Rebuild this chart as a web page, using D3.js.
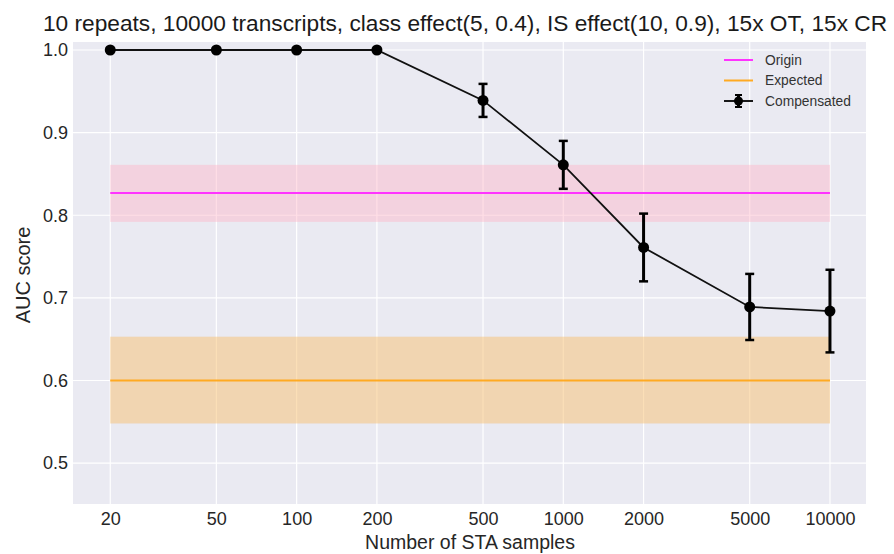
<!DOCTYPE html>
<html>
<head>
<meta charset="utf-8">
<script src="https://cdn.jsdelivr.net/npm/d3@7"></script>
<style>
  body { margin: 0; background: #fff; }
  text { font-family: "Liberation Sans", Arial, sans-serif; }
</style>
</head>
<body>
<svg class="chart" width="894" height="554"></svg>
<script>
// data
var samples = [20, 50, 100, 200, 500, 1000, 2000, 5000, 10000];
var compMean = [1.0, 1.0, 1.0, 1.0, 0.939, 0.861, 0.761, 0.689, 0.684];
var compErr = [0, 0, 0, 0, 0.020, 0.029, 0.041, 0.040, 0.050];
var originMean = 0.827, originLow = 0.792, originHigh = 0.861;
var expectedMean = 0.600, expectedLow = 0.548, expectedHigh = 0.653;
var yTicks = [0.5, 0.6, 0.7, 0.8, 0.9, 1.0];

var chart = d3.select("svg.chart"),
    margin = {top: 42, right: 28, bottom: 50, left: 73},
    w = 894 - margin.left - margin.right,
    h = 554 - margin.top - margin.bottom;

var xScale = d3.scaleLog().domain([14.5, 13650]).range([0, w]);
var yScale = d3.scaleLinear().domain([0.4505, 1.0097]).range([h, 0]);

var g = chart.append("g").attr("transform", "translate(" + margin.left + "," + margin.top + ")");

g.append("rect").attr("width", w).attr("height", h).attr("fill", "#eaeaf2");

// grid
g.selectAll("line.gx").data(samples).enter().append("line")
  .attr("x1", function(d) { return xScale(d); }).attr("x2", function(d) { return xScale(d); })
  .attr("y1", 0).attr("y2", h).attr("stroke", "#fff").attr("stroke-width", 1.2);
g.selectAll("line.gy").data(yTicks).enter().append("line")
  .attr("y1", function(d) { return yScale(d); }).attr("y2", function(d) { return yScale(d); })
  .attr("x1", 0).attr("x2", w).attr("stroke", "#fff").attr("stroke-width", 1.2);

var x0 = xScale(samples[0]), x1 = xScale(samples[samples.length - 1]);

// bands
g.append("rect").attr("x", x0).attr("width", x1 - x0)
  .attr("y", yScale(originHigh)).attr("height", yScale(originLow) - yScale(originHigh))
  .attr("fill", "#ffb6c8").attr("fill-opacity", 0.45);
g.append("rect").attr("x", x0).attr("width", x1 - x0)
  .attr("y", yScale(expectedHigh)).attr("height", yScale(expectedLow) - yScale(expectedHigh))
  .attr("fill", "#f8c070").attr("fill-opacity", 0.5);

g.append("line").attr("x1", x0).attr("x2", x1)
  .attr("y1", yScale(originMean)).attr("y2", yScale(originMean))
  .attr("stroke", "#ff33ff").attr("stroke-width", 2);
g.append("line").attr("x1", x0).attr("x2", x1)
  .attr("y1", yScale(expectedMean)).attr("y2", yScale(expectedMean))
  .attr("stroke", "#ffaa22").attr("stroke-width", 2);

// compensated line with error bars
var line = d3.line().x(function(d, i) { return xScale(samples[i]); }).y(function(d) { return yScale(d); });
g.append("path").attr("d", line(compMean)).attr("fill", "none").attr("stroke", "#111").attr("stroke-width", 1.8);

var eb = g.selectAll("g.eb").data(samples).enter().append("g");
eb.append("line")
  .attr("x1", function(d) { return xScale(d); }).attr("x2", function(d) { return xScale(d); })
  .attr("y1", function(d, i) { return yScale(compMean[i] + compErr[i]); })
  .attr("y2", function(d, i) { return yScale(compMean[i] - compErr[i]); })
  .attr("stroke", "#000").attr("stroke-width", 3);
[1, -1].forEach(function(s) {
  eb.filter(function(d, i) { return compErr[i] > 0; }).append("line")
    .attr("x1", function(d) { return xScale(d) - 4.5; }).attr("x2", function(d) { return xScale(d) + 4.5; })
    .attr("y1", function(d) { return yScale(compMean[samples.indexOf(d)] + s * compErr[samples.indexOf(d)]); })
    .attr("y2", function(d) { return yScale(compMean[samples.indexOf(d)] + s * compErr[samples.indexOf(d)]); })
    .attr("stroke", "#000").attr("stroke-width", 2.5);
});
eb.append("circle")
  .attr("cx", function(d) { return xScale(d); })
  .attr("cy", function(d, i) { return yScale(compMean[i]); })
  .attr("r", 5.5).attr("fill", "#000");

// axes
var xAxis = d3.axisBottom(xScale).tickValues(samples).tickFormat(d3.format("d")).tickSize(0).tickPadding(8);
var yAxis = d3.axisLeft(yScale).tickValues(yTicks).tickFormat(d3.format(".1f")).tickSize(0).tickPadding(5);
var xg = g.append("g").attr("transform", "translate(0," + h + ")").call(xAxis);
var yg = g.append("g").call(yAxis);
[xg, yg].forEach(function(a) {
  a.select(".domain").remove();
  a.selectAll("text").attr("font-size", 18).attr("fill", "#262626")
    .style("font-family", "'Liberation Sans', Arial, sans-serif");
});
xg.selectAll("text").attr("dy", "0.71em");

// labels
chart.append("text").attr("x", 470).attr("y", 549).attr("text-anchor", "middle")
  .attr("font-size", 19.5).attr("fill", "#262626").text("Number of STA samples");
chart.append("text").attr("transform", "translate(30,275) rotate(-90)").attr("text-anchor", "middle")
  .attr("font-size", 20).attr("fill", "#262626").text("AUC score");
chart.append("text").attr("x", 43).attr("y", 31)
  .attr("font-size", 22.7).attr("fill", "#1a1a1a")
  .text("10 repeats, 10000 transcripts, class effect(5, 0.4), IS effect(10, 0.9), 15x OT, 15x CR");

// legend
var legend = [
  {name: "Origin", color: "#ff33ff", marker: false},
  {name: "Expected", color: "#ffaa22", marker: false},
  {name: "Compensated", color: "#000", marker: true}
];
var lg = chart.append("g").attr("transform", "translate(724,60)");
var row = lg.selectAll("g").data(legend).enter().append("g")
  .attr("transform", function(d, i) { return "translate(0," + (i * 20.5) + ")"; });
row.append("line").attr("x1", 0).attr("x2", 29).attr("y1", 0).attr("y2", 0)
  .attr("stroke", function(d) { return d.color; }).attr("stroke-width", function(d) { return d.marker ? 1.8 : 2; });
row.filter(function(d) { return d.marker; }).each(function() {
  var r = d3.select(this);
  r.append("line").attr("x1", 14.5).attr("x2", 14.5).attr("y1", -6).attr("y2", 6).attr("stroke", "#000").attr("stroke-width", 3);
  r.append("line").attr("x1", 11).attr("x2", 18).attr("y1", -6).attr("y2", -6).attr("stroke", "#000").attr("stroke-width", 2);
  r.append("line").attr("x1", 11).attr("x2", 18).attr("y1", 6).attr("y2", 6).attr("stroke", "#000").attr("stroke-width", 2);
  r.append("circle").attr("cx", 14.5).attr("cy", 0).attr("r", 4.5).attr("fill", "#000");
});
row.append("text").attr("x", 41).attr("y", 0).attr("dy", "0.35em")
  .attr("font-size", 13.8).attr("fill", "#333").text(function(d) { return d.name; });
</script>
</body>
</html>
